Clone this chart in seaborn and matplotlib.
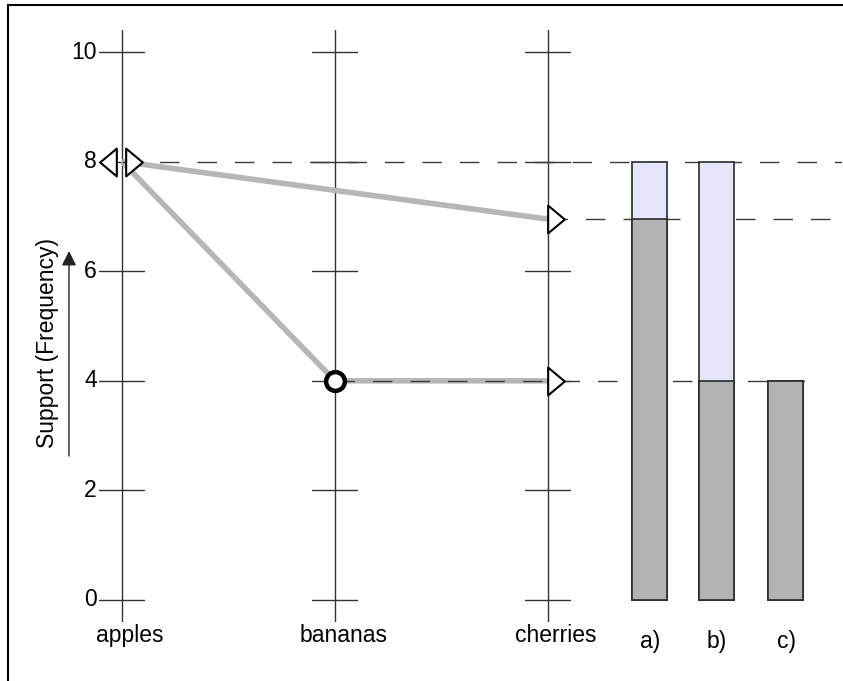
import numpy as np
import pandas as pd
import seaborn as sns
import matplotlib.pyplot as plt
from matplotlib.path import Path
from matplotlib.patches import Rectangle

sns.set_theme(style="white")
plt.rcParams["font.family"] = ["Liberation Sans", "DejaVu Sans"]

# --- data -------------------------------------------------------------
categories = ["apples", "bananas", "cherries"]
y_ticks = [0, 2, 4, 6, 8, 10]

# support along the two paths through the categories
path_low_x = [0, 1, 2]
path_low_y = [8, 4, 4]
path_high_x = [0, 2]
path_high_y = [8, 6.95]

# summary bars
bar_labels = ["a)", "b)", "c)"]
bar_x = [2.477, 2.791, 3.117]
bar_support = [6.95, 4, 4]
bar_total = [8, 8, 4]

# dashed reference levels and the category each one starts from
ref_levels = [8, 6.95, 4]
ref_start = [0, 2, 1]
ref_end = [3.38, 3.325, 3.27]

# --- figure -----------------------------------------------------------
W, H = 843, 681
fig = plt.figure(figsize=(W / 100, H / 100), dpi=100)
ax = fig.add_axes([26.15 / W, (H - 621.9) / H, (841.9 - 26.15) / W, (621.9 - 30.1) / H])
ax.set_xlim(-0.45, 3.38)
ax.set_ylim(-0.4, 10.4)
ax.axis("off")

axis_col = "#333333"
line_grey = "#b6b6b6"
fs = 16.5

# vertical category axes with cross ticks
for i, name in enumerate(categories):
    ax.plot([i, i], [-0.4, 10.4], color=axis_col, lw=1.0, zorder=1)
    for t in y_ticks:
        ax.plot([i - 0.107, i + 0.105], [t, t], color=axis_col, lw=1.0, zorder=1)
    ax.text(i + 0.038, -0.43, name, ha="center", va="top", fontsize=fs, color="black")

for t in y_ticks:
    ax.text(-0.118, t, str(t), ha="right", va="center", fontsize=fs, color="black")

# dashed reference levels
for lvl, s, e in zip(ref_levels, ref_start, ref_end):
    ln, = ax.plot([s, e], [lvl, lvl], color="#3a3a3a", lw=1.0, zorder=3)
    ln.set_dashes([14, 13])

# stacked bars: total (light) under support (grey)
df = pd.DataFrame({"x": bar_x, "total": bar_total, "support": bar_support})
sns.barplot(data=df, x="x", y="total", native_scale=True, width=0.522,
            color="#e6e6fa", saturation=1, edgecolor="#2a2a2a", linewidth=1.2,
            errorbar=None, ax=ax, zorder=4)
sns.barplot(data=df, x="x", y="support", native_scale=True, width=0.522,
            color="#b3b3b3", saturation=1, edgecolor="#2a2a2a", linewidth=1.2,
            errorbar=None, ax=ax, zorder=5)
for bx, lab in zip(bar_x, bar_labels):
    ax.text(bx + 0.003, -0.55, lab, ha="center", va="top", fontsize=fs, color="black")

# support paths
sns.lineplot(x=path_low_x, y=path_low_y, color=line_grey, lw=4.0, ax=ax,
             zorder=2, solid_capstyle="butt")
sns.lineplot(x=path_high_x, y=path_high_y, color=line_grey, lw=4.0, ax=ax,
             zorder=2, solid_capstyle="butt")

# narrow triangle markers
tri_right = Path([(-0.3, -0.5), (0.3, 0.0), (-0.3, 0.5), (-0.3, -0.5)],
                 [Path.MOVETO, Path.LINETO, Path.LINETO, Path.CLOSEPOLY])
tri_left = Path([(0.3, -0.5), (-0.3, 0.0), (0.3, 0.5), (0.3, -0.5)],
                [Path.MOVETO, Path.LINETO, Path.LINETO, Path.CLOSEPOLY])
mk = dict(ms=20, mfc="white", mec="black", mew=1.5, ls="none", zorder=6)
ax.plot([path_low_x[0] - 0.066], [path_low_y[0]], marker=tri_left, **mk)
ax.plot([path_low_x[0] + 0.056], [path_low_y[0]], marker=tri_right, **mk)
ax.plot([path_high_x[-1] + 0.04], [path_high_y[-1]], marker=tri_right, **mk)
ax.plot([path_low_x[-1] + 0.04], [path_low_y[-1]], marker=tri_right, **mk)
ax.plot([path_low_x[1]], [path_low_y[1]], marker="o", ms=13.5, mfc="white",
        mec="black", mew=3.2, ls="none", zorder=6)

ax.set_xlabel("")
ax.set_ylabel("")

# y-axis caption with upward arrow
fig.text(48 / W, (H - 343.5) / H, "Support (Frequency)", rotation=90,
         ha="center", va="center", fontsize=fs, color="black")
fig.add_artist(plt.Annotation("", xy=(69 / W, (H - 251) / H), xytext=(69 / W, (H - 456) / H),
                              xycoords="figure fraction", textcoords="figure fraction",
                              arrowprops=dict(arrowstyle="-|>", color="#222222", lw=1.0,
                                              mutation_scale=22, shrinkA=0, shrinkB=0)))

# frame around the drawing
fig.add_artist(Rectangle((8 / W, -0.1), 1.2, (H - 5) / H + 0.1, transform=fig.transFigure,
                         fill=False, edgecolor="black", lw=1.5))

fig.savefig("out.png", dpi=100)
